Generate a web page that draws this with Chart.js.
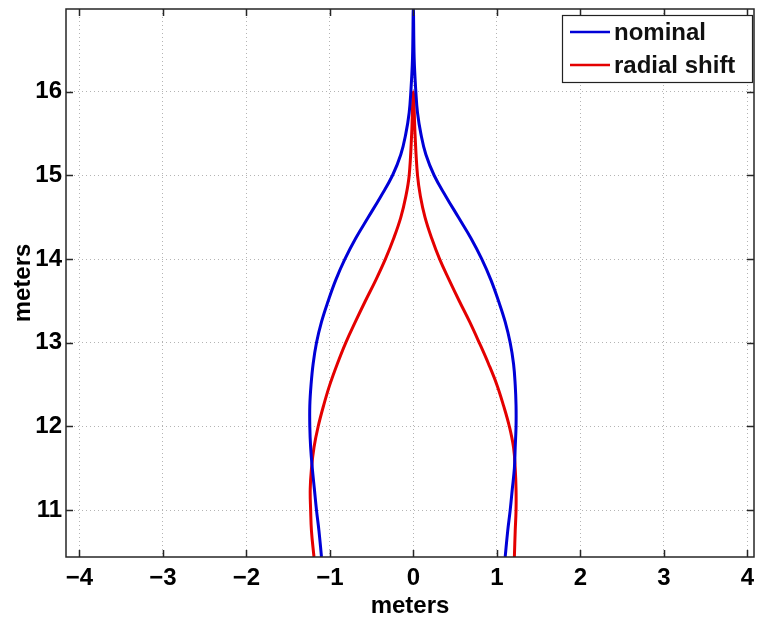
<!DOCTYPE html>
<html>
<head>
<meta charset="utf-8">
<script src="https://cdn.jsdelivr.net/npm/chart.js@4.4.1/dist/chart.umd.min.js"></script>
<style>
  html, body { margin: 0; padding: 0; background: #fff; }
</style>
</head>
<body>
<canvas id="myChart" width="757" height="619"></canvas>
<script>
  // values (meters)
  const xTicks = [-4, -3, -2, -1, 0, 1, 2, 3, 4];
  const yTicks = [11, 12, 13, 14, 15, 16];

  const nomY = [10.44, 10.75, 11.0, 11.25, 11.5, 11.75, 12.0, 12.25, 12.5, 12.75, 13.0, 13.25, 13.5, 13.75, 14.0, 14.25, 14.5, 14.75, 15.0, 15.25, 15.5, 15.75, 16.0, 16.4, 17.0];
  const nomLeft = [-1.10, -1.13, -1.16, -1.185, -1.21, -1.23, -1.24, -1.24, -1.225, -1.20, -1.16, -1.10, -1.02, -0.93, -0.82, -0.69, -0.54, -0.39, -0.25, -0.15, -0.09, -0.05, -0.03, -0.01, 0];
  const nomRight = [1.10, 1.13, 1.16, 1.185, 1.21, 1.22, 1.23, 1.23, 1.22, 1.20, 1.16, 1.10, 1.02, 0.93, 0.82, 0.69, 0.54, 0.39, 0.25, 0.15, 0.09, 0.05, 0.03, 0.01, 0];

  const radY = [10.44, 10.75, 11.0, 11.25, 11.5, 11.75, 12.0, 12.25, 12.5, 12.75, 13.0, 13.25, 13.5, 13.75, 14.0, 14.25, 14.5, 14.75, 15.0, 15.5, 16.0];
  const radLeft = [-1.19, -1.22, -1.23, -1.235, -1.22, -1.19, -1.14, -1.075, -1.0, -0.91, -0.81, -0.695, -0.575, -0.45, -0.335, -0.235, -0.15, -0.09, -0.05, -0.02, 0];
  const radRight = [1.21, 1.22, 1.23, 1.23, 1.22, 1.20, 1.15, 1.08, 1.0, 0.90, 0.79, 0.675, 0.55, 0.43, 0.315, 0.22, 0.14, 0.085, 0.05, 0.02, 0];

  // left branch bottom -> top, then right branch top -> bottom
  function outline(ys, left, right) {
    const pts = ys.map((y, i) => ({ x: left[i], y: y }));
    for (let i = ys.length - 2; i >= 0; i--) pts.push({ x: right[i], y: ys[i] });
    return pts;
  }

  const minus = (v) => (v < 0 ? "\u2212" + Math.abs(v) : String(v));

  const frameAndLegend = {
    id: "frameAndLegend",
    afterDatasetsDraw(chart) {
      const { ctx, chartArea: a, scales } = chart;
      ctx.save();
      ctx.strokeStyle = "#262626";
      ctx.lineWidth = 1.5;
      ctx.strokeRect(a.left, a.top, a.right - a.left, a.bottom - a.top);
      ctx.beginPath();
      xTicks.forEach((v) => {
        const px = Math.round(scales.x.getPixelForValue(v)) + 0.5;
        ctx.moveTo(px, a.bottom); ctx.lineTo(px, a.bottom - 7);
        ctx.moveTo(px, a.top); ctx.lineTo(px, a.top + 7);
      });
      yTicks.forEach((v) => {
        const py = Math.round(scales.y.getPixelForValue(v)) + 0.5;
        ctx.moveTo(a.left, py); ctx.lineTo(a.left + 7, py);
        ctx.moveTo(a.right, py); ctx.lineTo(a.right - 7, py);
      });
      ctx.stroke();

      // legend box, top right inside the axes
      const bw = 190, bh = 67;
      const bx = a.right - 2 - bw, by = a.top + 6;
      ctx.fillStyle = "#fff";
      ctx.fillRect(bx, by, bw, bh);
      ctx.lineWidth = 1.2;
      ctx.strokeStyle = "#222";
      ctx.strokeRect(bx + 0.5, by + 0.5, bw, bh);
      ctx.font = "bold 24px 'Liberation Sans', Arial, sans-serif";
      ctx.textBaseline = "middle";
      chart.data.datasets.forEach((ds, i) => {
        const ly = by + 17 + i * 33;
        ctx.strokeStyle = ds.borderColor;
        ctx.lineWidth = 2.5;
        ctx.beginPath();
        ctx.moveTo(bx + 8, ly); ctx.lineTo(bx + 48, ly);
        ctx.stroke();
        ctx.fillStyle = "#111";
        ctx.fillText(ds.label, bx + 52, ly + 1);
      });
      ctx.restore();
    },
  };

  const tickFont = { family: "'Liberation Sans', Arial, sans-serif", size: 24, weight: "bold" };
  const titleFont = { family: "'Liberation Sans', Arial, sans-serif", size: 24, weight: "bold", lineHeight: 1.08 };

  const ctx = document.getElementById("myChart").getContext("2d");
  const myChart = new Chart(ctx, {
    type: "scatter",
    data: {
      datasets: [
        {
          label: "nominal",
          data: outline(nomY, nomLeft, nomRight),
          showLine: true,
          borderColor: "rgb(0,0,215)",
          borderWidth: 3,
          pointRadius: 0,
          tension: 0.4,
          fill: false,
        },
        {
          label: "radial shift",
          data: outline(radY, radLeft, radRight),
          showLine: true,
          borderColor: "rgb(228,0,0)",
          borderWidth: 3,
          pointRadius: 0,
          tension: 0.4,
          fill: false,
        },
      ],
    },
    options: {
      responsive: false,
      animation: false,
      layout: { padding: { left: 9, right: 3, top: 9, bottom: 0 } },
      plugins: { legend: { display: false }, tooltip: { enabled: false } },
      scales: {
        x: {
          type: "linear",
          min: -4.16,
          max: 4.08,
          afterBuildTicks: (s) => { s.ticks = xTicks.map((v) => ({ value: v })); },
          afterFit: (s) => { s.height = 62; s.paddingLeft = 0; s.paddingRight = 0; },
          grid: { color: "#b4b4b4", lineWidth: 1, drawTicks: false },
          border: { display: false, dash: [1, 3] },
          ticks: { font: tickFont, color: "#000", padding: 7, callback: (v) => minus(v), maxRotation: 0 },
          title: { display: true, text: "meters", font: titleFont, color: "#000", padding: 0 },
        },
        y: {
          type: "linear",
          min: 10.44,
          max: 16.99,
          afterBuildTicks: (s) => { s.ticks = yTicks.map((v) => ({ value: v })); },
          afterFit: (s) => { s.width = 66 - 9; s.paddingTop = 0; s.paddingBottom = 0; },
          grid: { color: "#b4b4b4", lineWidth: 1, drawTicks: false },
          border: { display: false, dash: [1, 3] },
          ticks: { font: tickFont, color: "#000", padding: 4, callback: (v) => String(v) },
          title: { display: true, text: "meters", font: tickFont, color: "#000", padding: 0 },
        },
      },
    },
    plugins: [frameAndLegend],
  });
</script>
</body>
</html>
